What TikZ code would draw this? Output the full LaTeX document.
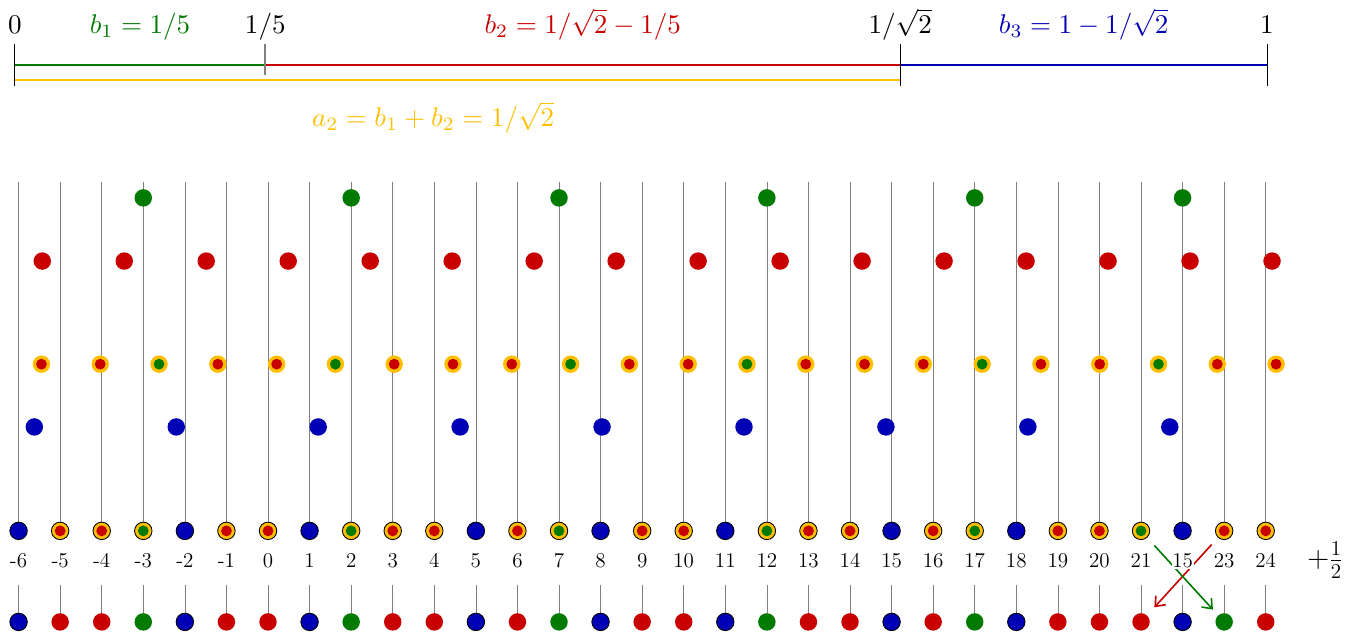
\documentclass[tikz,border=0pt]{standalone}
\usepackage{amsmath,amssymb}
\usetikzlibrary{arrows.meta, calc, backgrounds}
\definecolor{dotgreen}{HTML}{007A00}
\definecolor{dotred}{HTML}{C80000}
\definecolor{dotblue}{HTML}{0000B4}
\definecolor{gold}{HTML}{FFBF00}
\newcommand{\toptext}[1]{\scalebox{1.85}{#1}}

\begin{document}
\begin{tikzpicture}[>={Straight Barb[length=2mm, width=3.2mm]},
  dot/.style={circle, inner sep=0pt, minimum size=0.42cm},
  framed/.style={draw=black, line width=0.6pt},
  gdot/.style={dot, fill=dotgreen},
  rdot/.style={dot, fill=dotred},
  bdot/.style={dot, fill=dotblue},
  bframe/.style={bdot, framed},
  ring/.style={dot, fill=gold,
    path picture={\fill[#1] (path picture bounding box.center) circle (0.13cm);}},
  rring/.style={ring=dotred},
  gring/.style={ring=dotgreen},
  rmid/.style={rring, framed},
  gmid/.style={gring, framed},
  grid line/.style={gray, line width=0.5pt},
  seg/.style={line width=1pt},
  lab/.style={font=\Large, anchor=base, fill=white, inner sep=0.5pt},
  toplab/.style={anchor=base, inner sep=0pt}]

\useasboundingbox (-6.447,-15.275) rectangle (26.316,0);

% --- The unit interval split into b1, b2, b3 ---
\begin{scope}[shift={(-6.09,0)}, x=30.12cm]
\coordinate (u0) at (0,-1.56);
\coordinate (u1) at (0.2,-1.56);
\coordinate (u2) at ({1/sqrt(2)},-1.56);
\coordinate (u3) at (1,-1.56);
\coordinate (v0) at (0,-1.92);
\coordinate (v2) at ({1/sqrt(2)},-1.92);
\end{scope}

\draw[seg, dotgreen] (u0) -- (u1);
\draw[seg, dotred] (u1) -- (u2);
\draw[seg, dotblue] (u2) -- (u3);
\draw[seg, gold] (v0) -- (v2);

% ticks
\foreach \p in {u0,u2,u3}
  \draw[line width=0.5pt] ($(\p)+(0,0.5)$) -- ($(\p)+(0,-0.51)$);
\draw[gray, line width=1.2pt] ($(u1)+(0,0.5)$) -- ($(u1)+(0,-0.24)$);

\node[toplab] (t0) at ($(u0)+(0,0.76)$) {\toptext{$0$}};
\node[toplab] (t1) at ($(u1)+(0,0.76)$) {\toptext{$1/5$}};
\node[toplab] (t2) at ($(u2)+(0,0.76)$) {\toptext{$1/\sqrt{2}$}};
\node[toplab] (t3) at ($(u3)+(0,0.76)$) {\toptext{$1$}};

\node[toplab, text=dotgreen] (b1) at ($(u0)!0.5!(u1)+(0,0.76)$) {\toptext{$b_1 = 1/5$}};
\node[toplab, text=dotred] (b2) at ($(u1)!0.5!(u2)+(0,0.76)$) {\toptext{$b_2 = 1/\sqrt{2} - 1/5$}};
\node[toplab, text=dotblue] (b3) at ($(u2)!0.5!(u3)+(0,0.76)$) {\toptext{$b_3 = 1 - 1/\sqrt{2}$}};
\node[toplab, text=gold] (a2) at (3.97,-3.05) {\toptext{$a_2 = b_1 + b_2 = 1/\sqrt{2}$}};

% --- Rows of points (m+1/2)/b - 1/2 ---
\foreach \m in {-1,...,4}
  \node[gdot] (g\m) at ({5*\m+2},-4.76) {};
\foreach \m in {-3,...,12}
  \node[rdot] (r\m) at ({(\m+0.5)/(1/sqrt(2)-0.2)-0.5},-6.28) {};
\foreach \m/\s in {-4/rring,-3/rring,-2/gring,-1/rring,0/rring,1/gring,2/rring,
    3/rring,4/rring,5/gring,6/rring,7/rring,8/gring,9/rring,10/rring,11/rring,
    12/gring,13/rring,14/rring,15/gring,16/rring,17/rring}
  \node[\s] (a\m) at ({(\m+0.5)*sqrt(2)-0.5},-8.76) {};
\foreach \m in {-2,...,6}
  \node[bdot] (c\m) at ({(\m+0.5)/(1-1/sqrt(2))-0.5},-10.27) {};

% --- Merged sequence on the integers ---
\foreach \k/\s in {-6/bframe,-5/rmid,-4/rmid,-3/gmid,-2/bframe,-1/rmid,0/rmid,
    1/bframe,2/gmid,3/rmid,4/rmid,5/bframe,6/rmid,7/gmid,8/bframe,9/rmid,10/rmid,
    11/bframe,12/gmid,13/rmid,14/rmid,15/bframe,16/rmid,17/gmid,18/bframe,
    19/rmid,20/rmid,21/gmid,22/bframe,23/rmid,24/rmid}
  \node[\s] (m\k) at (\k,-12.77) {};

\foreach \k/\s in {-6/bframe,-5/rdot,-4/rdot,-3/gdot,-2/bframe,-1/rdot,0/rdot,
    1/bframe,2/gdot,3/rdot,4/rdot,5/bframe,6/rdot,7/gdot,8/bframe,9/rdot,10/rdot,
    11/bframe,12/gdot,13/rdot,14/rdot,15/bframe,16/rdot,17/gdot,18/bframe,
    19/rdot,20/rdot,21/rdot,22/bframe,23/gdot,24/rdot}
  \node[\s] (b\k) at (\k,-14.96) {};

% grid lines (behind the dots)
\begin{scope}[on background layer]
\foreach \k in {-6,...,24} {
  \coordinate (top\k) at (\k,-4.38);
  \coordinate (s\k) at (\k,-14.07);
  \draw[grid line] (top\k) -- (m\k);
  \draw[grid line] (s\k) -- (b\k);
}
\end{scope}

% swap of 21 and 23
\draw[dotred, line width=1.1pt, ->] ($(m23)!0.15!(b21)$) -- ($(m23)!0.84!(b21)$);
\draw[dotgreen, line width=1.1pt, ->] ($(m21)!0.16!(b23)$) -- ($(m21)!0.865!(b23)$);

% labels
\foreach \k in {-6,...,24} {
  \ifnum\k=22 \def\t{15}\else\def\t{\k}\fi
  \node[lab] (l\k) at (\k,-13.66) {\t};
}
\node[font=\fontsize{20}{24}\selectfont, anchor=base] (half) at (25.43,-13.66) {$+\frac{1}{2}$};

\end{tikzpicture}
\end{document}
